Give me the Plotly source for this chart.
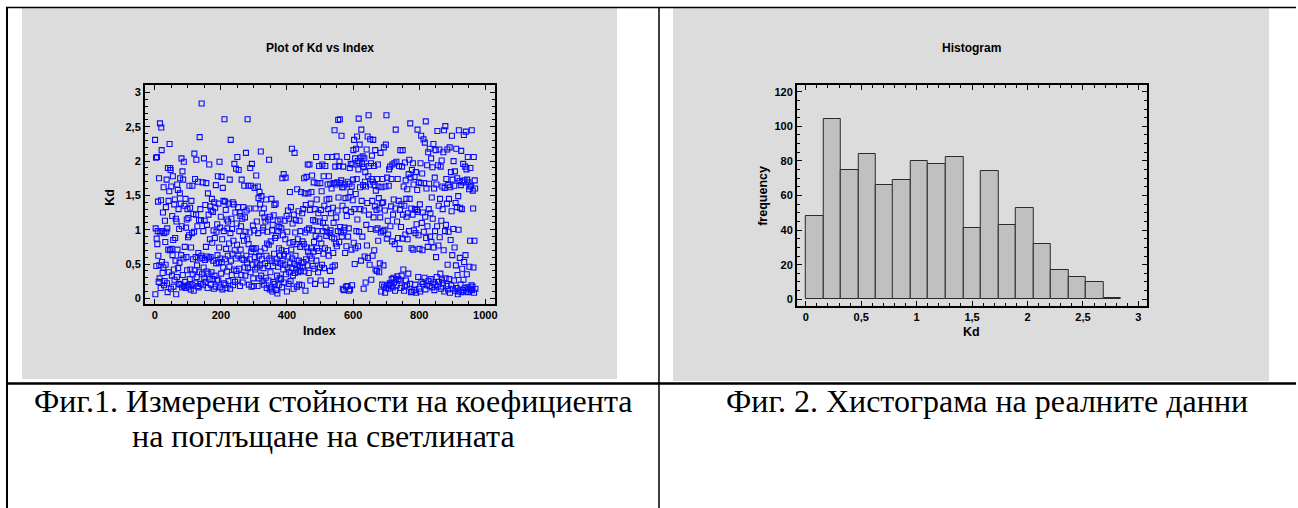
import plotly.graph_objects as go

W, H = 1298, 508

# ---------------- data ----------------
kd_values = [
    2.31, 0.06, 1.02, 2.05, 0.47, 0.87, 2.06, 0.79, 0.98, 1.41,
    0.62, 0.24, 1.75, 0.48, 0.29, 2.55, 0.96, 0.15, 1.43, 2.49,
    2.16, 0.53, 0.98, 0.37, 1.25, 0.45, 1.62, 0.19, 0.95, 0.25,
    1.13, 0.82, 0.49, 1.33, 0.97, 1.73, 0.22, 1.02, 0.09, 1.90,
    0.71, 1.42, 0.38, 1.56, 2.25, 0.70, 1.90, 1.87, 0.14, 1.63,
    0.72, 0.33, 1.20, 0.63, 1.78, 0.85, 0.17, 0.42, 1.37, 0.27,
    1.44, 0.88, 0.55, 1.16, 0.06, 1.12, 0.31, 1.66, 0.71, 1.58,
    0.44, 1.30, 0.21, 1.01, 0.52, 1.53, 1.75, 0.20, 1.38, 0.63,
    2.04, 1.05, 0.16, 1.85, 0.34, 1.73, 0.58, 1.99, 0.18, 1.35,
    0.75, 0.24, 1.45, 0.15, 1.03, 0.60, 1.15, 0.41, 1.30, 0.19,
    0.89, 1.17, 0.17, 0.92, 1.64, 0.28, 1.32, 0.42, 0.13, 0.74,
    1.42, 0.20, 0.95, 1.64, 0.35, 0.57, 1.23, 0.11, 0.97, 2.11,
    0.41, 1.74, 0.22, 0.60, 1.22, 2.02, 0.31, 0.48, 1.05, 0.18,
    1.70, 0.66, 0.16, 1.14, 0.38, 2.35, 0.58, 1.30, 0.21, 1.14,
    0.62, 2.84, 0.35, 0.59, 1.69, 0.19, 0.98, 0.45, 2.04, 0.29,
    1.13, 0.56, 1.36, 0.24, 0.75, 1.68, 0.39, 1.07, 0.61, 0.15,
    1.53, 0.36, 1.22, 0.58, 1.95, 0.28, 0.86, 1.34, 0.60, 0.20,
    1.28, 0.38, 1.45, 0.81, 0.28, 1.26, 0.55, 0.99, 0.14, 1.40,
    0.33, 0.88, 1.32, 0.17, 1.65, 0.51, 0.97, 0.27, 1.08, 0.63,
    1.78, 0.26, 1.38, 0.52, 0.74, 1.99, 0.16, 1.03, 0.58, 1.19,
    0.36, 1.77, 0.53, 0.86, 0.13, 1.61, 0.45, 1.42, 0.98, 0.22,
    2.61, 0.57, 1.41, 0.20, 1.29, 0.72, 0.15, 1.15, 0.39, 1.02,
    0.62, 1.12, 0.25, 1.38, 0.80, 0.46, 1.73, 0.14, 0.95, 2.31,
    0.55, 1.16, 0.34, 1.01, 0.65, 1.40, 0.19, 0.84, 1.37, 0.42,
    1.96, 0.70, 0.24, 1.25, 0.58, 1.89, 0.40, 1.09, 0.78, 2.06,
    0.27, 1.33, 0.62, 1.87, 0.43, 0.98, 1.25, 0.18, 1.20, 0.71,
    1.05, 0.34, 1.73, 0.58, 1.16, 0.23, 0.91, 1.33, 0.56, 0.84,
    1.64, 0.45, 1.18, 0.33, 0.97, 2.12, 0.62, 1.28, 0.52, 0.86,
    2.61, 0.44, 1.64, 0.79, 0.20, 1.31, 0.96, 0.57, 1.90, 0.38,
    1.64, 0.68, 0.17, 1.96, 0.73, 0.49, 1.06, 0.29, 0.72, 0.18,
    0.99, 1.61, 0.60, 0.42, 1.31, 0.73, 1.79, 0.51, 1.12, 0.45,
    0.18, 1.63, 0.95, 1.46, 0.62, 0.29, 1.55, 0.48, 1.37, 0.68,
    2.14, 0.33, 1.49, 0.57, 1.24, 0.25, 0.99, 1.03, 0.44, 1.31,
    0.20, 1.18, 0.73, 0.51, 1.12, 0.30, 1.44, 0.62, 0.15, 0.80,
    0.97, 0.47, 1.15, 0.26, 0.78, 2.02, 0.58, 0.13, 1.19, 0.38,
    0.83, 0.16, 1.45, 0.55, 0.99, 0.10, 1.07, 0.47, 0.24, 1.21,
    0.65, 1.36, 0.21, 0.88, 0.52, 1.38, 0.12, 0.91, 0.57, 0.33,
    0.07, 1.13, 0.46, 0.98, 0.19, 0.73, 1.04, 0.30, 0.62, 1.15,
    0.51, 0.28, 1.02, 0.70, 0.16, 1.75, 0.55, 0.92, 0.42, 1.81,
    0.64, 0.23, 1.13, 0.49, 0.86, 1.76, 0.35, 0.69, 1.20, 0.10,
    0.97, 0.45, 1.28, 0.61, 0.21, 1.16, 0.38, 0.81, 1.55, 0.52,
    0.25, 1.33, 0.71, 0.44, 2.18, 0.58, 1.09, 0.33, 0.82, 0.14,
    1.22, 0.50, 2.12, 0.37, 0.96, 0.62, 1.14, 0.42, 0.79, 0.17,
    1.59, 0.48, 0.86, 0.38, 1.27, 0.55, 0.20, 1.13, 0.46, 0.75,
    0.98, 0.40, 1.55, 0.52, 0.19, 1.24, 0.83, 0.45, 1.30, 0.53,
    0.79, 1.75, 0.39, 1.53, 0.96, 0.11, 1.36, 0.57, 1.77, 0.74,
    1.00, 0.48, 1.95, 0.68, 1.53, 0.37, 1.02, 1.95, 0.62, 1.29,
    0.26, 1.38, 0.73, 1.55, 0.58, 1.79, 0.99, 0.47, 1.14, 0.68,
    1.69, 0.82, 0.43, 1.30, 0.21, 1.12, 0.91, 2.06, 0.55, 1.44,
    0.73, 1.68, 0.98, 0.38, 1.24, 0.69, 1.93, 0.87, 1.12, 0.45,
    1.68, 0.26, 1.29, 0.80, 1.56, 0.49, 1.95, 0.98, 1.10, 0.65,
    1.78, 0.44, 1.35, 1.17, 0.73, 1.93, 1.03, 0.20, 0.91, 1.44,
    0.97, 2.06, 1.66, 0.70, 1.30, 0.62, 1.78, 1.45, 0.95, 0.40,
    1.67, 0.99, 1.24, 0.25, 1.60, 0.89, 2.06, 0.46, 1.32, 0.66,
    1.10, 1.68, 0.87, 2.45, 0.48, 1.92, 1.66, 0.80, 1.18, 2.07,
    0.76, 1.69, 1.28, 0.98, 2.60, 1.47, 1.93, 0.82, 1.99, 2.61,
    1.04, 1.68, 0.96, 1.72, 2.37, 0.90, 1.62, 1.35, 0.14, 1.92,
    1.62, 0.12, 0.99, 1.03, 1.66, 0.66, 1.46, 1.29, 0.17, 0.76,
    1.20, 2.06, 0.18, 1.70, 0.90, 1.47, 1.02, 0.11, 1.67, 1.90,
    0.13, 1.55, 1.96, 1.26, 0.71, 1.63, 0.19, 1.95, 1.43, 1.73,
    2.16, 0.81, 2.31, 1.30, 0.50, 2.04, 0.73, 1.52, 2.18, 0.98,
    1.74, 2.36, 1.15, 2.00, 0.76, 1.88, 2.62, 0.97, 1.97, 2.24,
    1.62, 1.30, 2.05, 0.55, 2.46, 1.42, 1.96, 0.90, 2.07, 1.65,
    1.92, 0.14, 1.28, 2.04, 0.61, 1.70, 1.84, 0.23, 1.63, 1.07,
    2.17, 0.77, 1.39, 2.36, 0.59, 1.78, 2.67, 1.22, 1.93, 0.49,
    1.66, 2.32, 1.01, 1.97, 0.27, 1.74, 2.08, 1.42, 0.62, 1.70,
    2.31, 1.18, 1.93, 0.70, 1.65, 1.34, 2.16, 0.42, 1.57, 1.00,
    1.29, 0.40, 1.74, 1.02, 1.95, 0.84, 1.63, 1.46, 0.38, 1.31,
    0.51, 1.18, 2.12, 0.96, 0.10, 1.62, 1.39, 0.20, 1.74, 0.98,
    1.40, 0.48, 2.20, 0.17, 1.00, 1.28, 0.08, 1.63, 2.24, 0.15,
    2.67, 0.87, 1.76, 0.19, 1.13, 0.93, 0.14, 1.64, 1.88, 0.20,
    0.22, 1.92, 1.05, 0.18, 1.34, 1.74, 0.28, 0.83, 1.95, 0.16,
    1.22, 0.30, 1.44, 0.23, 1.97, 0.79, 0.11, 1.31, 2.46, 0.27,
    1.99, 0.19, 1.12, 0.32, 1.74, 0.88, 0.28, 1.42, 1.93, 0.72,
    0.26, 1.29, 2.16, 0.15, 1.04, 1.37, 0.33, 1.92, 0.87, 2.16,
    1.22, 0.42, 1.63, 0.11, 1.35, 0.17, 1.98, 0.93, 1.72, 0.26,
    1.45, 1.19, 0.19, 1.59, 0.86, 1.24, 0.36, 1.81, 0.98, 2.02,
    1.45, 0.21, 2.55, 1.76, 0.09, 1.31, 0.73, 1.87, 0.10, 1.22,
    1.97, 0.71, 1.66, 0.99, 0.12, 1.77, 1.30, 0.20, 0.95, 1.84,
    0.08, 1.08, 1.29, 1.58, 2.46, 1.26, 0.31, 0.92, 1.69, 0.14,
    0.72, 1.37, 0.10, 1.97, 1.68, 2.37, 0.24, 1.10, 1.82, 0.70,
    1.25, 0.21, 2.32, 0.97, 1.68, 0.30, 2.27, 1.19, 0.13, 2.58,
    0.88, 1.60, 0.19, 1.94, 1.05, 0.75, 2.13, 0.25, 1.30, 1.67,
    0.18, 2.18, 0.90, 1.24, 0.28, 2.04, 0.82, 1.47, 0.16, 1.91,
    1.16, 0.23, 2.25, 0.74, 1.60, 0.12, 1.76, 0.98, 0.20, 2.16,
    0.60, 1.66, 0.31, 1.05, 2.44, 0.17, 1.94, 0.77, 1.35, 0.24,
    2.17, 0.89, 1.45, 0.36, 1.92, 0.14, 1.13, 2.01, 0.27, 1.63,
    1.30, 0.22, 2.13, 0.70, 2.45, 0.10, 1.61, 0.98, 2.51, 0.29,
    1.07, 1.74, 0.18, 1.38, 2.17, 0.49, 0.13, 1.65, 0.97, 1.45,
    0.28, 2.20, 0.08, 1.62, 0.85, 1.84, 0.19, 1.27, 2.37, 0.63,
    1.73, 0.14, 1.01, 2.00, 0.26, 1.64, 0.74, 1.85, 0.11, 1.39,
    0.48, 2.18, 0.15, 1.33, 1.75, 0.34, 0.06, 1.49, 1.00, 2.45,
    0.10, 1.71, 0.59, 1.32, 0.20, 1.65, 2.15, 0.09, 1.30, 0.43,
    1.69, 0.12, 1.96, 0.27, 2.38, 0.53, 1.72, 0.15, 1.92, 0.63,
    2.43, 0.10, 1.88, 0.35, 1.73, 0.16, 2.06, 0.09, 1.69, 0.13,
    1.59, 0.46, 1.63, 0.84, 1.90, 0.14, 1.64, 0.19, 2.45, 0.12,
    0.17, 1.57, 1.31, 0.45, 2.06, 0.08, 0.84, 1.72, 1.60, 0.14,
]
index_values = list(range(1, len(kd_values) + 1))

hist_bin_left = [0.000, 0.158, 0.316, 0.474, 0.632, 0.789, 0.947, 1.105, 1.263,
                 1.421, 1.579, 1.737, 1.895, 2.053, 2.211, 2.368, 2.526, 2.684]
hist_bin_width = 0.158
hist_counts = [48, 104, 75, 84, 66, 69, 80, 78, 82, 41, 74, 43, 53, 32, 17, 13, 10, 1]

scatter_title = "Plot of Kd vs Index"
hist_title = "Histogram"
caption1_lines = ["Фиг.1. Измерени стойности на коефициента", "на поглъщане на светлината"]
caption2 = "Фиг. 2. Хистограма на реалните данни"


# ---------------- helpers (pixel -> paper) ----------------
def px(x):
    return x / W


def py(y):
    return 1 - y / H


SANS = "Arial, Liberation Sans, Helvetica, sans-serif"
SERIF = "Times New Roman, Liberation Serif, serif"
GREY = "#DCDCDC"

fig = go.Figure()

fig.add_trace(go.Scatter(
    x=index_values, y=kd_values, mode="markers",
    marker=dict(symbol="square-open", size=5, color="#0A0AFF", line=dict(width=1.1, color="#0A0AFF")),
    xaxis="x", yaxis="y", showlegend=False, hoverinfo="skip",
))

fig.add_trace(go.Bar(
    x=hist_bin_left, y=hist_counts, width=hist_bin_width, offset=0,
    marker=dict(color="#C0C0C0", line=dict(color="#2A2A2A", width=1)),
    xaxis="x2", yaxis="y2", showlegend=False, hoverinfo="skip",
))

tickfont = dict(family=SANS, size=11, color="black", weight="bold")
axis_common = dict(
    showline=True, linecolor="black", linewidth=1.6, mirror="allticks",
    ticks="inside", ticklen=5, tickwidth=1, tickcolor="black",
    showgrid=False, zeroline=False, tickfont=tickfont,
)

fig.update_layout(
    width=W, height=H,
    margin=dict(l=0, r=0, t=0, b=0),
    paper_bgcolor="white", plot_bgcolor="white",
    separators=",.",
    bargap=0,
    xaxis=dict(domain=[px(145), px(496)], range=[-30, 1030], dtick=200, anchor="y",
               minor=dict(dtick=50, ticks="inside", ticklen=3, tickcolor="black", showgrid=False),
               **axis_common),
    yaxis=dict(domain=[py(304), py(85)], range=[-0.083, 3.11], dtick=0.5, anchor="x",
               minor=dict(dtick=0.1, ticks="inside", ticklen=3, tickcolor="black", showgrid=False),
               **axis_common),
    xaxis2=dict(domain=[px(798), px(1149)], range=[-0.081, 3.08], dtick=0.5, anchor="y2",
                minor=dict(dtick=0.1, ticks="inside", ticklen=3, tickcolor="black", showgrid=False),
                **axis_common),
    yaxis2=dict(domain=[py(306), py(85)], range=[-3.9, 123.9], dtick=20, anchor="x2",
                minor=dict(dtick=5, ticks="inside", ticklen=3, tickcolor="black", showgrid=False),
                **axis_common),
)

shapes = [
    # grey chart panels
    dict(type="rect", xref="paper", yref="paper", x0=px(22), x1=px(618), y0=py(379), y1=py(8),
         fillcolor=GREY, line=dict(width=0), layer="below"),
    dict(type="rect", xref="paper", yref="paper", x0=px(674), x1=px(1271), y0=py(381), y1=py(8),
         fillcolor=GREY, line=dict(width=0), layer="below"),
    # table borders
    dict(type="line", xref="paper", yref="paper", x0=px(6), x1=px(1298), y0=py(7.5), y1=py(7.5),
         line=dict(color="black", width=1.5)),
    dict(type="line", xref="paper", yref="paper", x0=px(7), x1=px(7), y0=py(7), y1=py(508),
         line=dict(color="black", width=2)),
    dict(type="line", xref="paper", yref="paper", x0=px(660), x1=px(660), y0=py(7), y1=py(508),
         line=dict(color="black", width=1.5)),
    dict(type="line", xref="paper", yref="paper", x0=px(6), x1=px(1298), y0=py(383.5), y1=py(383.5),
         line=dict(color="black", width=2.5)),
]
fig.update_layout(shapes=shapes)

bold = dict(family=SANS, size=12, color="black", weight="bold")
axtitle = dict(family=SANS, size=12.5, color="black", weight="bold")
capfont = dict(family=SERIF, size=32, color="black")
ann = [
    dict(text=scatter_title, x=px(320), y=py(48), font=bold),
    dict(text=hist_title, x=px(973), y=py(48), font=bold),
    dict(text="Index", x=px(320), y=py(331), font=axtitle),
    dict(text="Kd", x=px(110), y=py(197), font=axtitle, textangle=-90),
    dict(text="Kd", x=px(973), y=py(332), font=axtitle),
    dict(text="frequency", x=px(764), y=py(196), font=axtitle, textangle=-90),
    dict(text=caption1_lines[0], x=px(334), y=py(401), font=capfont),
    dict(text=caption1_lines[1], x=px(324), y=py(436), font=capfont),
    dict(text=caption2, x=px(989), y=py(401), font=capfont),
]
for a in ann:
    a.update(xref="paper", yref="paper", showarrow=False, xanchor="center", yanchor="middle")
fig.update_layout(annotations=ann)

fig.write_html(
    "out.html",
    config={"displayModeBar": False},
    post_script="document.body.style.margin='0';document.body.style.padding='0';document.body.style.overflow='hidden';",
)
